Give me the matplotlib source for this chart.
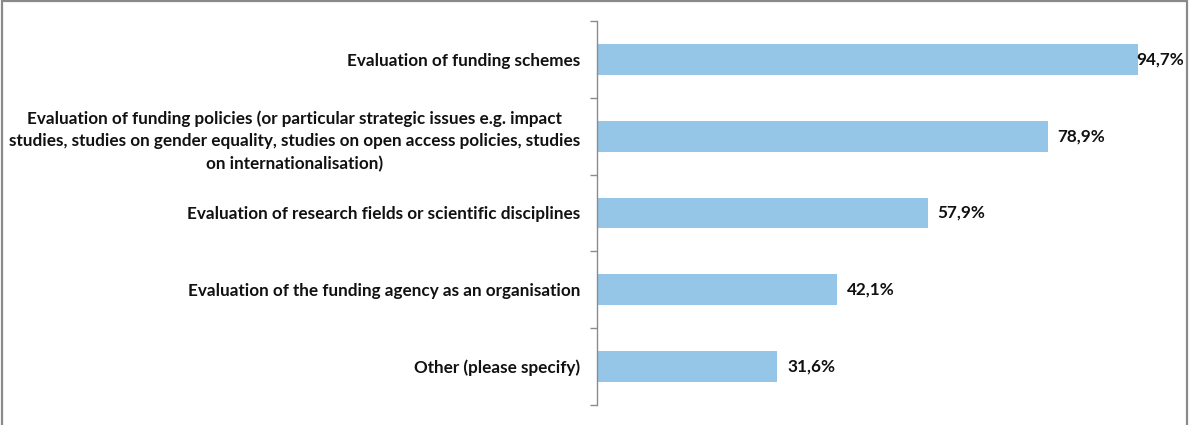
import matplotlib.pyplot as plt
from matplotlib.patches import Rectangle

categories = [
    "Evaluation of funding schemes",
    "Evaluation of funding policies (or particular strategic issues e.g. impact\n"
    "studies, studies on gender equality, studies on open access policies, studies\n"
    "on internationalisation)",
    "Evaluation of research fields or scientific disciplines",
    "Evaluation of the funding agency as an organisation",
    "Other (please specify)",
]
values = [94.7, 78.9, 57.9, 42.1, 31.6]
value_labels = ["94,7%", "78,9%", "57,9%", "42,1%", "31,6%"]

plt.rcParams['font.family'] = ['Lato', 'DejaVu Sans']

fig = plt.figure(figsize=(11.89, 4.25), dpi=100)
ax = fig.add_axes([597 / 1189, 20 / 425, 571 / 1189, 384 / 425])

y = list(range(len(categories)))
ax.barh(y, values, height=0.4, color="#95c6e8", zorder=2)
ax.set_xlim(0, 100)
ax.set_ylim(len(categories) - 0.5, -0.5)

# category ticks sit on boundaries, labels at bar centres
ax.set_yticks([i - 0.5 for i in range(len(categories) + 1)])
ax.set_yticklabels([])
ax.set_yticks(y, minor=True)
ax.set_yticklabels(categories, minor=True, fontsize=12.3, fontweight="bold",
                   multialignment="center", linespacing=1.5, color="#111111")
ax.tick_params(axis="y", which="major", length=5, color="#8c8c8c", width=1)
ax.tick_params(axis="y", which="minor", length=0, pad=12)
ax.set_xticks([])

for s in ["top", "right", "bottom"]:
    ax.spines[s].set_visible(False)
ax.spines["left"].set_color("#8c8c8c")
ax.spines["left"].set_linewidth(1)

for i, (v, lab) in enumerate(zip(values, value_labels)):
    off = 10 if v < max(values) else -1
    ax.annotate(lab, (v, i), xytext=(off, 0), textcoords="offset pixels",
                ha="left", va="center", fontsize=12.3, fontweight="bold",
                color="#111111")

# outer chart frame
fig.patches.append(Rectangle((2 / 1189, -0.05), 1185 / 1189, 1.05 - 1.5 / 425,
                             transform=fig.transFigure, fill=False,
                             edgecolor="#8a8a8a", linewidth=1.6))

fig.savefig("out.png", dpi=100)
